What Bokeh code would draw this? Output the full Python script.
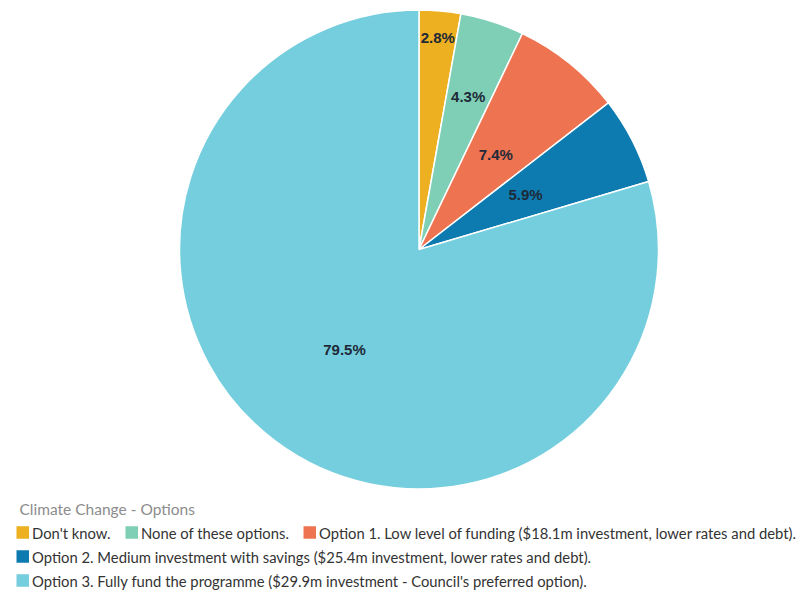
import math
from bokeh.plotting import figure
from bokeh.models import Range1d, ColumnDataSource
from bokeh.core.properties import value
from bokeh.embed import file_html
from bokeh.resources import INLINE

# ---- data ----
categories = [
    "Don't know.",
    "None of these options.",
    "Option 1. Low level of funding ($18.1m investment, lower rates and debt).",
    "Option 2. Medium investment with savings ($25.4m investment, lower rates and debt).",
    "Option 3. Fully fund the programme ($29.9m investment - Council's preferred option).",
]
percents = [2.8, 4.3, 7.4, 5.9, 79.5]
pct_labels = ["2.8%", "4.3%", "7.4%", "5.9%", "79.5%"]
colors = ["#EDB021", "#7ECFB5", "#EE7351", "#0E7BB0", "#74CEDD"]
title_text = "Climate Change - Options"

# ---- style / layout ----
W, H = 807, 592
CX, CY_SCR, R = 418.5, 249, 239.5
label_frac = [0.89, 0.67, 0.51, 0.50, 0.52]

def Y(ys):
    return H - ys

total = sum(percents)
starts, ends, lx, ly = [], [], [], []
cum = 0.0
for i, v in enumerate(percents):
    a0 = math.pi / 2 - 2 * math.pi * cum / total
    a1 = math.pi / 2 - 2 * math.pi * (cum + v) / total
    starts.append(a0)
    ends.append(a1)
    mid = (a0 + a1) / 2
    lx.append(CX + label_frac[i] * R * math.cos(mid))
    ly.append(Y(CY_SCR) + label_frac[i] * R * math.sin(mid))
    cum += v

src = ColumnDataSource(dict(start=starts, end=ends, color=colors, lx=lx, ly=ly, lab=pct_labels))

p = figure(width=W, height=H, x_range=Range1d(0, W), y_range=Range1d(0, H),
           output_backend="svg", toolbar_location=None, min_border=0,
           background_fill_color="white", border_fill_color="white")
p.axis.visible = False
p.grid.visible = False
p.outline_line_color = None

p.wedge(x=CX, y=Y(CY_SCR), radius=R, start_angle="start", end_angle="end",
        direction="clock", fill_color="color", line_color="white", line_width=1.5,
        source=src)

p.text(x="lx", y="ly", text="lab", source=src, text_align="center", text_baseline="middle",
       text_font=value("Liberation Sans"), text_font_style="bold", text_font_size="15px",
       text_color="#1E2A38")

# ---- legend (manual) ----
p.text(x=[19], y=[Y(508)], text=[title_text], text_align="left", text_baseline="middle",
       text_font=value("Lato"), text_font_size="15.5px", text_color="#8C8C8C")

mk_left = [16, 125, 303, 16, 16]
row_y = [532, 532, 532, 556, 580]
msize = 12.5
mx = [m + msize / 2 for m in mk_left]
my = [Y(r) for r in row_y]
p.rect(x=mx, y=my, width=msize, height=msize, fill_color=colors, line_color=None)
p.text(x=[m + msize + 3 for m in mk_left], y=my, text=categories, text_align="left",
       text_baseline="middle", text_font=value("Lato"), text_font_size="14.8px",
       text_color="#333333")

open("out.html", "w").write(file_html(p, INLINE))
